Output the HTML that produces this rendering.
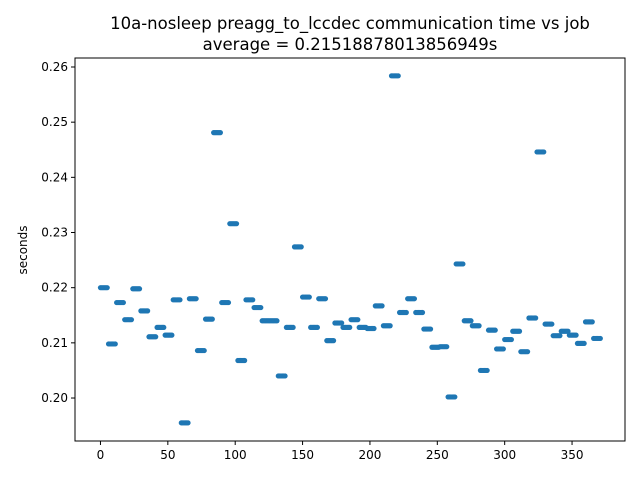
<!DOCTYPE html>
<html><head><meta charset="utf-8"><style>
body{margin:0;background:#fff;font-family:"Liberation Sans","DejaVu Sans",sans-serif}
</style></head><body>
<svg id="chart" width="640" height="480" xmlns="http://www.w3.org/2000/svg" font-family="DejaVu Sans, Liberation Sans, sans-serif">
<rect width="640" height="480" fill="#fff"/>
<text x="350" y="29" text-anchor="middle" font-size="16.5">10a-nosleep preagg_to_lccdec communication time vs job</text>
<text x="350" y="50" text-anchor="middle" font-size="16.5">average = 0.21518878013856949s</text>
<text transform="translate(27,250) rotate(-90)" text-anchor="middle" font-size="12">seconds</text>
<g id="marks"></g>
<g id="axes"></g>
<rect x="75" y="58" width="550" height="383" fill="none" stroke="#000" stroke-width="1"/>
</svg>
<script>
const groupValues=[0.2200,0.2098,0.2173,0.2142,0.2198,0.2158,0.2111,0.2128,0.2114,0.2178,0.1955,0.2180,0.2086,0.2143,0.2481,0.2173,0.2316,0.2068,0.2178,0.2164,0.2140,0.2140,0.2040,0.2128,0.2274,0.2183,0.2128,0.2180,0.2104,0.2136,0.2128,0.2142,0.2128,0.2126,0.2167,0.2131,0.2584,0.2155,0.2180,0.2155,0.2125,0.2092,0.2093,0.2002,0.2243,0.2140,0.2131,0.2050,0.2123,0.2089,0.2106,0.2121,0.2084,0.2145,0.2446,0.2134,0.2113,0.2121,0.2114,0.2099,0.2138,0.2108];
const groupSize=6;
const xTicks=[0,50,100,150,200,250,300,350];
const yTicks=[0.20,0.21,0.22,0.23,0.24,0.25,0.26];
const X0=75,X1=625,Y0=441,Y1=58;
const xMin=-18.9,xMax=389.3,yMin=0.19221,yMax=0.26163;
const sx=v=>X0+(v-xMin)/(xMax-xMin)*(X1-X0);
const sy=v=>Y0-(v-yMin)/(yMax-yMin)*(Y0-Y1);
const NS="http://www.w3.org/2000/svg";
const marks=document.getElementById('marks'),axes=document.getElementById('axes');
groupValues.forEach((v,g)=>{for(let k=0;k<groupSize;k++){const j=g*groupSize+k;
const c=document.createElementNS(NS,'circle');


c.setAttribute('cx',sx(j));c.setAttribute('cy',sy(v));c.setAttribute('r',2.6);c.setAttribute('fill','#1f77b4');marks.appendChild(c);}});
xTicks.forEach(t=>{const x=sx(t);
const l=document.createElementNS(NS,'line');


l.setAttribute('x1',x);l.setAttribute('x2',x);l.setAttribute('y1',Y0);l.setAttribute('y2',Y0+4);l.setAttribute('stroke','#000');axes.appendChild(l);
const tx=document.createElementNS(NS,'text');


tx.setAttribute('x',x);tx.setAttribute('y',Y0+18);tx.setAttribute('text-anchor','middle');tx.setAttribute('font-size','12');tx.textContent=t;axes.appendChild(tx);});
yTicks.forEach(t=>{const y=sy(t);
const l=document.createElementNS(NS,'line');


l.setAttribute('x1',X0-4);l.setAttribute('x2',X0);l.setAttribute('y1',y);l.setAttribute('y2',y);l.setAttribute('stroke','#000');axes.appendChild(l);
const tx=document.createElementNS(NS,'text');


tx.setAttribute('x',X0-7);tx.setAttribute('y',y+4);tx.setAttribute('text-anchor','end');tx.setAttribute('font-size','12');tx.textContent=t.toFixed(2);axes.appendChild(tx);});
</script>
</body></html>
